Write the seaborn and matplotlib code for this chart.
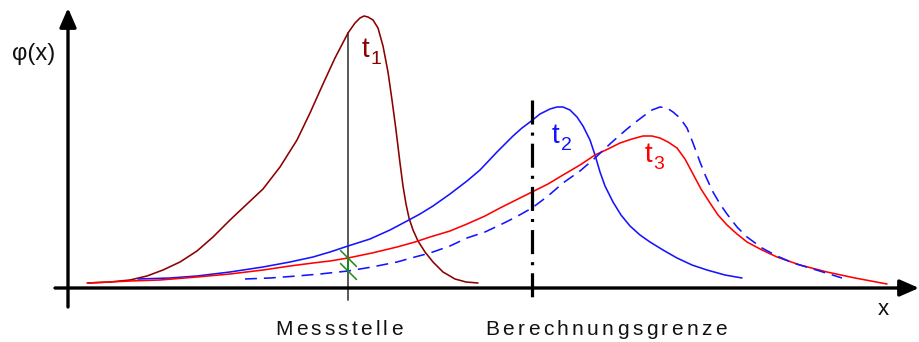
import numpy as np
import pandas as pd
import matplotlib
matplotlib.use("Agg")
import matplotlib.pyplot as plt
import seaborn as sns

# Concentration profiles phi(x) at three times (x in drawing units, phi = height above the x axis)
t1_x = [88, 110, 130, 147, 163, 180, 197, 213, 230, 247, 263, 280, 297, 310, 323, 335, 348, 355,
        360, 364, 368, 373, 378, 383, 388, 392, 396, 400, 403, 406, 409, 413, 418, 425, 433, 443, 455, 466, 478]
t1_phi = [5, 6, 8, 12, 18, 26, 37, 51, 68, 84, 99, 121, 148, 175, 204, 230, 255, 265,
          270, 272, 271, 268, 260, 242, 216, 188, 158, 125, 102, 84, 70, 58, 47, 36, 26, 16, 9, 6, 5]

t2_x = [138, 170, 197, 230, 263, 290, 313, 330, 348, 370, 390, 407, 420, 433, 450, 467, 480, 497, 513,
        522, 530, 540, 550, 557, 563, 570, 577, 583, 590, 595, 600, 605, 613, 621, 630, 640, 650, 663,
        677, 692, 707, 725, 742]
t2_phi = [9, 10, 12, 16, 21, 26, 31, 36, 42, 49, 58, 67, 74, 82, 94, 107, 118, 136, 152,
          160, 166, 174, 179, 181, 181, 178, 171, 162, 148, 133, 116, 102, 86, 73, 62, 53, 46, 38,
          30, 23, 18, 13, 10]

t3_x = [87, 110, 130, 160, 197, 230, 263, 290, 313, 330, 348, 372, 397, 415, 430, 450, 467, 485, 500,
        516, 532, 548, 563, 580, 595, 608, 620, 632, 643, 652, 660, 668, 677, 685, 693, 701, 710, 718,
        727, 737, 747, 762, 777, 800, 827, 855, 887]
t3_phi = [5, 6, 7, 8, 11, 14, 18, 22, 25, 27, 30, 35, 41, 46, 51, 57, 64, 72, 80,
          88, 96, 104, 113, 123, 133, 139, 145, 149, 152, 152, 150, 146, 140, 129, 114, 99, 85, 73,
          63, 54, 46, 38, 31, 23, 16, 10, 4]

# profile at t3 without the calculation boundary (dashed)
t3u_x = [245, 270, 297, 320, 348, 372, 397, 415, 430, 450, 467, 485, 500, 516, 532, 548, 563, 580,
         595, 611, 627, 637, 645, 652, 660, 667, 673, 680, 687, 693, 700, 706, 713, 720, 727, 737,
         747, 762, 777, 793, 810, 826, 842]
t3u_phi = [9, 10, 12, 14, 17, 21, 26, 31, 35, 42, 50, 56, 63, 71, 80, 92, 105, 117,
           130, 145, 159, 167, 173, 178, 181, 180, 176, 170, 160, 145, 126, 111, 96, 84, 74, 61,
           51, 40, 32, 25, 20, 15, 10]

curve_names = ["t", "t", "t"]
curve_subs = ["1", "2", "3"]
x_messstelle = 348
x_grenze = 532
grenze_top = 188
line_bottom = -12
axis_labels = ["Messstelle", "Berechnungsgrenze"]

DARK_RED = "#8b0000"
BLUE = "#1414ff"
RED = "#ff0000"
GREEN = "#1a8a1a"

sns.set_theme(style="white")
plt.rcParams["font.family"] = ["Liberation Sans", "DejaVu Sans"]
plt.rcParams["lines.scale_dashes"] = False

fig = plt.figure(figsize=(9.19, 3.42), dpi=100)
ax = fig.add_axes([0, 0, 1, 1])
ax.set_xlim(0, 919)
ax.set_ylim(-54, 288)
ax.axis("off")

lw = 1.15
sns.lineplot(x=t1_x, y=t1_phi, sort=False, color=DARK_RED, lw=lw, ax=ax)
sns.lineplot(x=t2_x, y=t2_phi, sort=False, color=BLUE, lw=lw, ax=ax)
sns.lineplot(x=t3_x, y=t3_phi, sort=False, color=RED, lw=lw, ax=ax)
sns.lineplot(x=t3u_x, y=t3u_phi, sort=False, color=BLUE, lw=lw,
             linestyle=(0, (8.6, 5.0)), ax=ax)

# measuring point: vertical line up to the t1 profile
top_mess = np.interp(x_messstelle, t1_x, t1_phi)
ax.plot([x_messstelle, x_messstelle], [line_bottom, top_mess], color="#444444", lw=1.25, zorder=1)

# readings at the measuring point for t3 (with and without boundary)
p_red = np.interp(x_messstelle, t3_x, t3_phi)
p_dash = np.interp(x_messstelle, t3u_x, t3u_phi)
ax.plot([x_messstelle, x_messstelle], [p_dash, p_red], color=GREEN, lw=1.3, zorder=4)
slash = [(-1, 1), (1, -1)]
ax.plot([x_messstelle, x_messstelle], [p_red, p_dash], ls="none", marker=slash,
        ms=12, mec=GREEN, mew=1.1, zorder=5)

# calculation boundary
ax.plot([x_grenze, x_grenze], [grenze_top, line_bottom], color="black", lw=2.3,
        linestyle=(0, (17.3, 5.8, 2.2, 5.8)), solid_capstyle="butt",
        dash_capstyle="butt", zorder=3)

# axes with arrows
arrow = dict(arrowstyle="-|>,head_length=0.55,head_width=0.24", lw=2.4,
             color="black", shrinkA=0, shrinkB=0, mutation_scale=21)
ax.annotate("", xy=(919, 0), xytext=(55, 0), arrowprops=arrow, zorder=6)
ax.annotate("", xy=(68, 280), xytext=(68, -19), arrowprops=arrow, zorder=6)


def spaced_text(x, y, s, track, **kw):
    renderer = fig.canvas.get_renderer()
    for i, ch in enumerate(s):
        w = 0.0
        if i:
            probe = ax.text(0, 0, s[:i], **kw)
            w = probe.get_window_extent(renderer).width
            probe.remove()
        ax.text(x + w + i * track, y, ch, ha="left", va="baseline", **kw)


txt = dict(fontsize=15, color="#111111")
ax.text(12, 228, "φ(x)", fontsize=17, color="#111111", ha="left", va="baseline")
spaced_text(275, -47, axis_labels[0], 3.2, **txt)
spaced_text(485, -47, axis_labels[1], 3.4, **txt)
ax.text(883, -27, "x", ha="center", va="baseline", fontsize=16, color="#111111")

# curve labels: letter with lowered index
label_pos = [(362, 231), (552, 145), (645, 126)]
label_col = [DARK_RED, BLUE, RED]
for (lx, ly), name, sub, col in zip(label_pos, curve_names, curve_subs, label_col):
    ax.text(lx, ly, name, color=col, fontsize=20, ha="left", va="baseline")
    ax.text(lx + 8.5, ly - 7, sub, color=col, fontsize=14, ha="left", va="baseline")

fig.savefig("out.png", dpi=100, facecolor="white")
